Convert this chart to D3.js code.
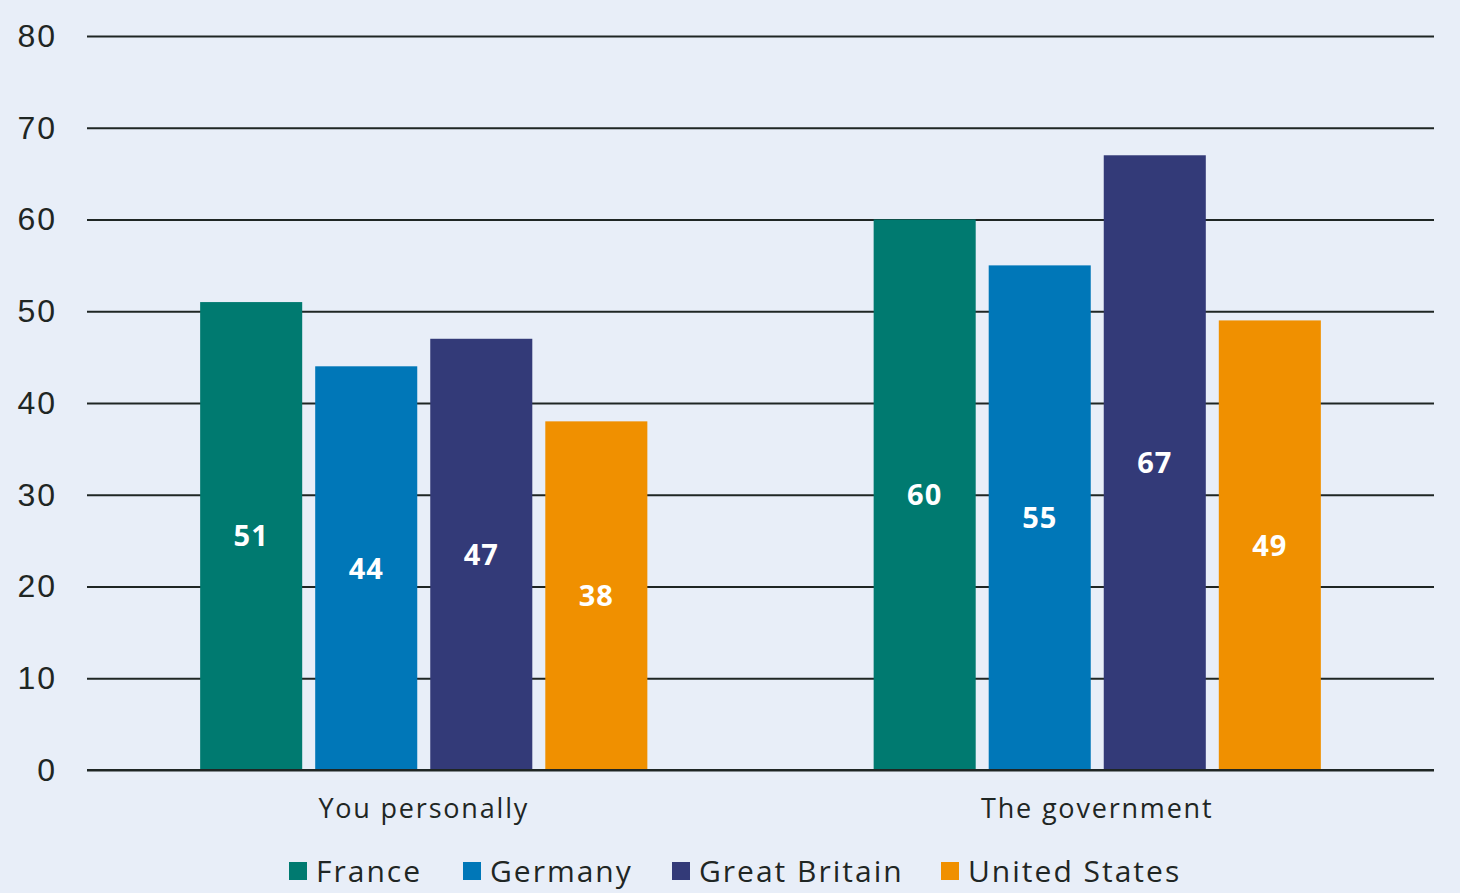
<!DOCTYPE html>
<html>
<head>
<meta charset="utf-8">
<script src="https://cdn.jsdelivr.net/npm/d3@7"></script>
<style>
  html, body { margin: 0; padding: 0; background: #e8eef8; }
  svg { display: block; font-family: "Open Sans", Lato, sans-serif; }
</style>
</head>
<body>
<svg id="chart" width="1460" height="893"></svg>
<script>
const categories = ['You personally', 'The government'];
const countries = ['France', 'Germany', 'Great Britain', 'United States'];
const colors = ['#007a70', '#0077b8', '#333a78', '#f09000'];
const france = [51, 60];
const germany = [44, 55];
const greatBritain = [47, 67];
const unitedStates = [38, 49];
const yTicks = [0, 10, 20, 30, 40, 50, 60, 70, 80];

const seriesValues = [france, germany, greatBritain, unitedStates];

const width = 1460;
const margin = { top: 36, right: 26, bottom: 123, left: 87 };
const height = 893;

const svg = d3.select('#chart');

const x0 = d3.scaleBand()
  .domain(categories)
  .range([margin.left, width - margin.right])
  .paddingInner(0.336)
  .paddingOuter(0.168);

const x1 = d3.scaleBand()
  .domain(countries)
  .range([0, x0.bandwidth()])
  .paddingInner(0.113);

const y = d3.scaleLinear()
  .domain([0, 80])
  .range([height - margin.bottom, margin.top]);

const color = d3.scaleOrdinal().domain(countries).range(colors);

// grid lines + tick labels
const yAxis = svg.append('g')
  .attr('transform', `translate(${margin.left},0)`)
  .call(d3.axisLeft(y)
    .tickValues(yTicks)
    .tickSize(-(width - margin.left - margin.right))
    .tickPadding(30));

yAxis.select('.domain').remove();
yAxis.selectAll('.tick line')
  .attr('stroke', '#1f2624')
  .attr('stroke-width', 2);
yAxis.selectAll('.tick text')
  .attr('fill', '#1f2624')
  .style('font-size', '32px')
  .style('letter-spacing', '2px');

// rows: one entry per category x country
const rows = [];
categories.forEach((cat, i) => {
  countries.forEach((c, j) => {
    rows.push({ category: cat, country: c, value: seriesValues[j][i] });
  });
});

const bars = svg.append('g').classed('bars', true);

bars.selectAll('rect')
  .data(rows)
  .enter()
  .append('rect')
    .attr('x', d => x0(d.category) + x1(d.country))
    .attr('y', d => y(d.value))
    .attr('width', x1.bandwidth())
    .attr('height', d => y(0) - y(d.value))
    .style('fill', d => color(d.country));

bars.selectAll('text')
  .data(rows)
  .enter()
  .append('text')
    .attr('x', d => x0(d.category) + x1(d.country) + x1.bandwidth() / 2)
    .attr('y', d => (y(d.value) + y(0)) / 2)
    .attr('text-anchor', 'middle')
    .attr('dy', '0.36em')
    .attr('fill', '#fff')
    .style('font-size', '29px')
    .style('font-weight', 'bold')
    .style('letter-spacing', '1px')
    .text(d => d.value);

// zero line on top
svg.append('line')
  .attr('x1', margin.left)
  .attr('x2', width - margin.right)
  .attr('y1', y(0))
  .attr('y2', y(0))
  .attr('stroke', '#1f2624')
  .attr('stroke-width', 2);

// category labels
svg.append('g')
  .selectAll('text')
  .data(categories)
  .enter()
  .append('text')
    .attr('x', d => x0(d) + x0.bandwidth() / 2)
    .attr('y', 818)
    .attr('text-anchor', 'middle')
    .attr('fill', '#1f2624')
    .style('font-size', '27px')
    .style('letter-spacing', '1.8px')
    .text(d => d);

// legend
const legendX = [289, 463, 672, 941];
const legend = svg.append('g')
  .selectAll('g')
  .data(countries)
  .enter()
  .append('g')
    .attr('transform', (d, i) => `translate(${legendX[i]},862)`);

legend.append('rect')
  .attr('width', 18)
  .attr('height', 18)
  .style('fill', d => color(d));

legend.append('text')
  .attr('x', 27)
  .attr('y', 9)
  .attr('dy', '0.36em')
  .attr('fill', '#1f2624')
  .style('font-size', '30px')
  .style('letter-spacing', '2px')
  .text(d => d);
</script>
</body>
</html>
